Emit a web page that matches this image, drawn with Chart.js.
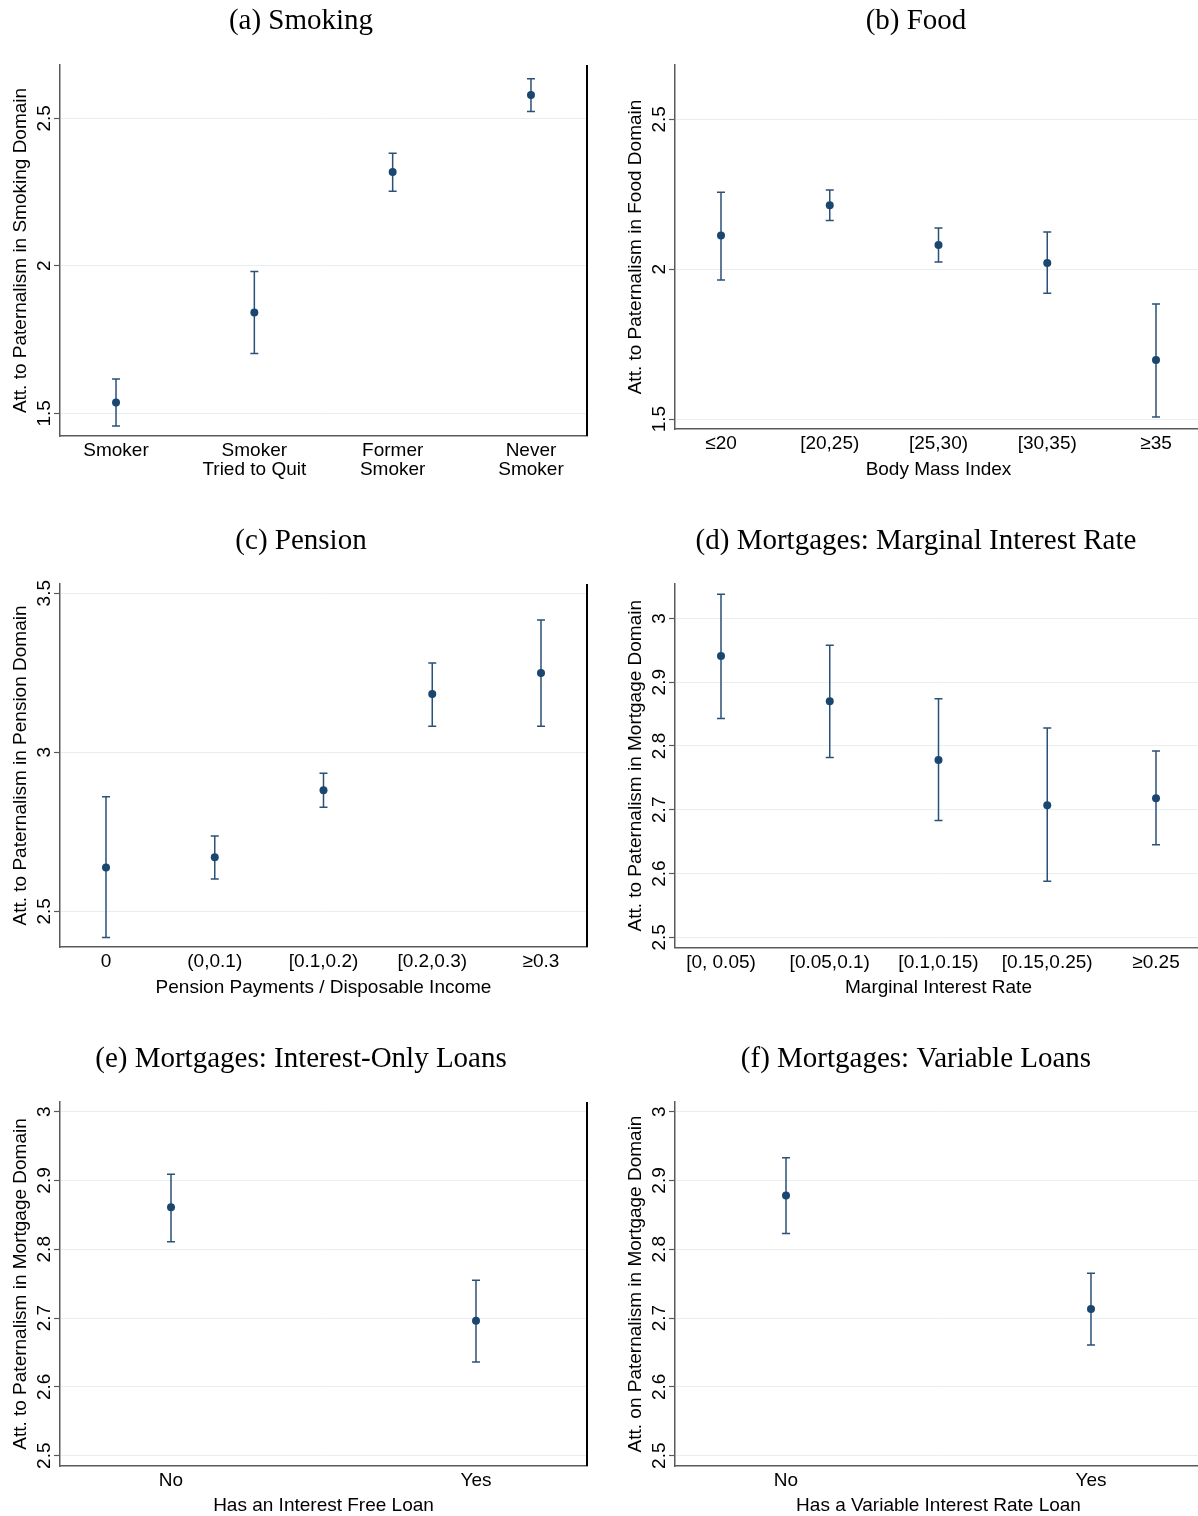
<!DOCTYPE html>
<html>
<head>
<meta charset="utf-8">
<script src="https://cdn.jsdelivr.net/npm/chart.js@4.4.0/dist/chart.umd.min.js"></script>
<style>
  html, body { margin: 0; padding: 0; background: #fff; }
  body { width: 1198px; height: 1516px; overflow: hidden; position: relative; }
  canvas { position: absolute; }
</style>
</head>
<body>
<canvas id="smoking" width="599" height="519" style="left:0;top:0"></canvas>
<canvas id="food" width="599" height="519" style="left:615px;top:0"></canvas>
<canvas id="pension" width="599" height="519" style="left:0;top:519px"></canvas>
<canvas id="rate" width="599" height="519" style="left:615px;top:519px"></canvas>
<canvas id="intonly" width="599" height="478" style="left:0;top:1038px"></canvas>
<canvas id="variable" width="599" height="478" style="left:615px;top:1038px"></canvas>
<script>
// (a) smoking
const smokingLabels = [['Smoker'], ['Smoker', 'Tried to Quit'], ['Former', 'Smoker'], ['Never', 'Smoker']];
const smokingMean = [1.537, 1.842, 2.318, 2.579];
const smokingLow = [1.457, 1.703, 2.253, 2.523];
const smokingHigh = [1.616, 1.981, 2.382, 2.634];
const smokingTicks = [1.5, 2, 2.5];

// (b) food
const bmiLabels = ['≤20', '[20,25)', '[25,30)', '[30,35)', '≥35'];
const foodMean = [2.112, 2.213, 2.081, 2.021, 1.697];
const foodLow = [1.964, 2.162, 2.024, 1.920, 1.507];
const foodHigh = [2.257, 2.264, 2.137, 2.124, 1.884];
const foodTicks = [1.5, 2, 2.5];

// (c) pension
const pensionLabels = ['0', '(0,0.1)', '[0.1,0.2)', '[0.2,0.3)', '≥0.3'];
const pensionMean = [2.638, 2.670, 2.881, 3.183, 3.249];
const pensionLow = [2.418, 2.602, 2.827, 3.082, 3.082];
const pensionHigh = [2.860, 2.737, 2.934, 3.281, 3.416];
const pensionTicks = [2.5, 3, 3.5];

// (d) marginal interest rate
const rateLabels = ['[0, 0.05)', '[0.05,0.1)', '[0.1,0.15)', '[0.15,0.25)', '≥0.25'];
const rateMean = [2.941, 2.870, 2.778, 2.707, 2.718];
const rateLow = [2.843, 2.782, 2.683, 2.588, 2.645];
const rateHigh = [3.038, 2.958, 2.874, 2.828, 2.792];
const mortgageTicks = [2.5, 2.6, 2.7, 2.8, 2.9, 3];

// (e) and (f)
const yesNoLabels = ['No', 'Yes'];
const intOnlyMean = [2.861, 2.696];
const intOnlyLow = [2.811, 2.636];
const intOnlyHigh = [2.909, 2.755];
const variableMean = [2.878, 2.713];
const variableLow = [2.823, 2.661];
const variableHigh = [2.933, 2.765];

const NAVY = '#1a476f';
const SANS = '"Liberation Sans", Arial, Helvetica, sans-serif';

const errorBars = {
  id: 'errorBars',
  beforeDatasetsDraw(chart) {
    const { ctx, scales: { x, y } } = chart;
    const ds = chart.data.datasets[0];
    ctx.save();
    ctx.strokeStyle = '#2a5178';
    ctx.lineWidth = 1.5;
    ds.low.forEach((lo, i) => {
      const px = x.getPixelForValue(i + 1);
      const top = y.getPixelForValue(ds.high[i]);
      const bot = y.getPixelForValue(lo);
      ctx.beginPath();
      ctx.moveTo(px, top); ctx.lineTo(px, bot);
      ctx.moveTo(px - 4, top); ctx.lineTo(px + 4, top);
      ctx.moveTo(px - 4, bot); ctx.lineTo(px + 4, bot);
      ctx.stroke();
    });
    ctx.restore();
  }
};

// rotated y tick labels + right frame line
const yTickText = {
  id: 'yTickText',
  afterDraw(chart) {
    const { ctx, scales: { y }, chartArea } = chart;
    ctx.save();
    ctx.font = '19px ' + SANS;
    ctx.fillStyle = '#000';
    ctx.textAlign = 'center';
    ctx.textBaseline = 'alphabetic';
    y.ticks.forEach(t => {
      const py = y.getPixelForValue(t.value);
      ctx.save();
      ctx.translate(chartArea.left - 10, py);
      ctx.rotate(-Math.PI / 2);
      ctx.fillText(String(t.value), 0, 0);
      ctx.restore();
    });
    ctx.strokeStyle = '#000';
    ctx.lineWidth = 2;
    ctx.beginPath();
    ctx.moveTo(chartArea.right, chartArea.top);
    ctx.lineTo(chartArea.right, chartArea.bottom);
    ctx.stroke();
    ctx.restore();
  }
};

function panel(id, p) {
  new Chart(document.getElementById(id), {
    type: 'scatter',
    data: {
      datasets: [{
        data: p.mean.map((m, i) => ({ x: i + 1, y: m })),
        low: p.low,
        high: p.high,
        backgroundColor: NAVY,
        borderColor: NAVY,
        pointRadius: 4,
        pointHoverRadius: 4,
        borderWidth: 0,
        clip: false
      }]
    },
    options: {
      responsive: false,
      animation: false,
      events: [],
      layout: { autoPadding: false, padding: { top: 0, left: 15, right: 12, bottom: 0 } },
      plugins: {
        legend: { display: false },
        tooltip: { enabled: false },
        title: {
          display: true,
          text: p.title,
          color: '#000',
          font: { family: '"Liberation Serif", "Times New Roman", serif', size: 29, weight: 'normal', lineHeight: 1.2 },
          padding: { top: p.titleTop, bottom: p.titleBottom }
        }
      },
      scales: {
        x: {
          type: 'linear',
          min: p.xMin,
          max: p.xMax,
          afterBuildTicks: s => { s.ticks = p.labels.map((_, i) => ({ value: i + 1 })); },
          afterFit: s => { s.height = p.xHeight; },
          ticks: {
            callback: (v, i) => p.labels[i],
            color: '#000',
            font: { family: SANS, size: 19, lineHeight: 1.0 },
            padding: 5.5,
            maxRotation: 0,
            autoSkip: false
          },
          grid: { display: false, drawTicks: false },
          border: { color: '#5a5a5a', width: 1.5 },
          title: {
            display: !!p.xTitle,
            text: p.xTitle || '',
            color: '#000',
            font: { family: SANS, size: 19, lineHeight: 1.0 },
            padding: { top: 0, bottom: p.xTitlePad }
          }
        },
        y: {
          type: 'linear',
          min: p.yMin,
          max: p.yMax,
          afterBuildTicks: s => { s.ticks = p.yTicks.map(v => ({ value: v })); },
          afterFit: s => { s.width = 45; },
          ticks: { display: false },
          grid: { color: '#e9eef3', lineWidth: 1, drawTicks: true, tickLength: 6, tickColor: '#5a5a5a', tickWidth: 1.2 },
          border: { color: '#5a5a5a', width: 1.5 },
          title: {
            display: true,
            text: p.yTitle,
            color: '#000',
            font: { family: SANS, size: 19, lineHeight: 0.6 },
            padding: { top: 0.3, bottom: 0 }
          }
        }
      }
    },
    plugins: [errorBars, yTickText]
  });
}

panel('smoking', {
  title: '(a) Smoking', titleTop: 4.1, titleBottom: 26.1,
  labels: smokingLabels, mean: smokingMean, low: smokingLow, high: smokingHigh,
  xMin: 0.595, xMax: 4.405, xHeight: 83, xTitle: '', xTitlePad: 0,
  yMin: 1.423, yMax: 2.681, yTicks: smokingTicks,
  yTitle: 'Att. to Paternalism in Smoking Domain'
});
panel('food', {
  title: '(b) Food', titleTop: 4.1, titleBottom: 26.1,
  labels: bmiLabels, mean: foodMean, low: foodLow, high: foodHigh,
  xMin: 0.577, xMax: 5.423, xHeight: 90, xTitle: 'Body Mass Index', xTitlePad: 39.5,
  yMin: 1.467, yMax: 2.681, yTicks: foodTicks,
  yTitle: 'Att. to Paternalism in Food Domain'
});
panel('pension', {
  title: '(c) Pension', titleTop: 5.1, titleBottom: 25.1,
  labels: pensionLabels, mean: pensionMean, low: pensionLow, high: pensionHigh,
  xMin: 0.577, xMax: 5.423, xHeight: 91, xTitle: 'Pension Payments / Disposable Income', xTitlePad: 40.5,
  yMin: 2.388, yMax: 3.529, yTicks: pensionTicks,
  yTitle: 'Att. to Paternalism in Pension Domain'
});
panel('rate', {
  title: '(d) Mortgages: Marginal Interest Rate', titleTop: 5.1, titleBottom: 25.1,
  labels: rateLabels, mean: rateMean, low: rateLow, high: rateHigh,
  xMin: 0.577, xMax: 5.423, xHeight: 90.5, xTitle: 'Marginal Interest Rate', xTitlePad: 40.5,
  yMin: 2.484, yMax: 3.054, yTicks: mortgageTicks,
  yTitle: 'Att. to Paternalism in Mortgage Domain'
});
panel('intonly', {
  title: '(e) Mortgages: Interest-Only Loans', titleTop: 4.1, titleBottom: 25.1,
  labels: yesNoLabels, mean: intOnlyMean, low: intOnlyLow, high: intOnlyHigh,
  xMin: 0.636, xMax: 2.364, xHeight: 50, xTitle: 'Has an Interest Free Loan', xTitlePad: 0.3,
  yMin: 2.485, yMax: 3.014, yTicks: mortgageTicks,
  yTitle: 'Att. to Paternalism in Mortgage Domain'
});
panel('variable', {
  title: '(f) Mortgages: Variable Loans', titleTop: 4.1, titleBottom: 25.1,
  labels: yesNoLabels, mean: variableMean, low: variableLow, high: variableHigh,
  xMin: 0.636, xMax: 2.364, xHeight: 50, xTitle: 'Has a Variable Interest Rate Loan', xTitlePad: 0.3,
  yMin: 2.485, yMax: 3.014, yTicks: mortgageTicks,
  yTitle: 'Att. on Paternalism in Mortgage Domain'
});
</script>
</body>
</html>
